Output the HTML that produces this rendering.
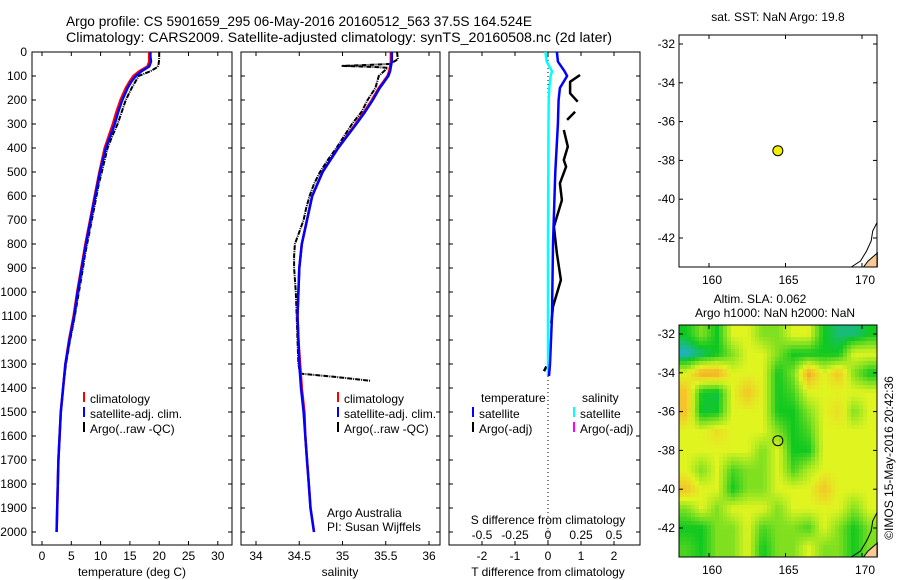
<!DOCTYPE html>
<html><head><meta charset="utf-8"><style>
body{margin:0;background:#fff}
svg{display:block;font-family:"Liberation Sans",sans-serif}
text{fill:#000}
</style></head><body>
<svg id="fig" width="900" height="580" viewBox="0 0 900 580">
<defs>
<clipPath id="clipMap2"><rect x="679" y="325" width="198" height="232"/></clipPath>
</defs>
<text x="66" y="26" font-size="14" textLength="466" lengthAdjust="spacingAndGlyphs">Argo profile: CS 5901659_295 06-May-2016 20160512_563 37.5S 164.524E</text>
<text x="66" y="42" font-size="14" textLength="546" lengthAdjust="spacingAndGlyphs">Climatology: CARS2009. Satellite-adjusted climatology: synTS_20160508.nc (2d later)</text>
<g id="g"></g>
</svg>
<script>
// ---------- data ----------
const depths = [0,20,40,60,80,100,125,150,200,250,300,400,500,600,700,800,900,1000,1100,1200,1300,1400,1500,1600,1700,1800,1900,2000];
const satT  = [18.5,18.5,18.6,18.3,17.0,16.0,15.2,14.6,13.7,13.0,12.4,10.9,9.9,9.1,8.3,7.5,6.8,6.1,5.5,4.7,4.0,3.6,3.2,3.0,2.8,2.7,2.6,2.5];
const climT = [18.3,18.3,18.3,18.0,16.6,15.6,14.9,14.3,13.4,12.7,12.1,10.7,9.8,9.0,8.2,7.4,6.7,6.0,5.4,4.6,4.0,3.6,3.2,3.0,2.8,2.7,2.6,2.5];
const satS  = [35.57,35.57,35.57,35.56,35.55,35.53,35.48,35.43,35.35,35.26,35.16,34.95,34.77,34.65,34.59,34.53,34.50,34.49,34.48,34.49,34.50,34.52,34.55,34.57,34.59,34.61,34.63,34.67];
const climS = [35.56,35.56,35.56,35.55,35.54,35.52,35.47,35.42,35.34,35.25,35.15,34.95,34.77,34.65,34.59,34.53,34.50,34.49,34.48,34.49,34.51,34.53,34.56,34.57,34.59,34.61,34.63,34.67];
const argoD = [0,30,50,58,62,66,80,100,150,200,250,300,350,400,450,500,550,600,650,700,750,800,850,900,1000,1100,1200,1300,1340,1355,1370];
const argoT = [20.0,20.0,19.9,19.8,19.7,19.5,18.5,16.5,15.3,14.3,13.6,12.9,12.0,11.2,10.7,10.2,9.7,9.3,8.9,8.5,8.1,7.7,7.3,7.0,6.3,5.6,4.8,4.1,3.9,3.8,3.7];
const argoS = [35.63,35.64,35.55,35.00,35.35,35.52,35.48,35.42,35.38,35.29,35.22,35.11,35.02,34.93,34.83,34.74,34.67,34.62,34.58,34.55,34.50,34.45,34.44,34.44,34.46,34.47,34.48,34.49,34.51,34.95,35.32];
const diffD  = [0,40,80,100,150,200,300,500,800,1100,1300,1350];
const satTdiff = [0.27,0.3,0.5,0.58,0.36,0.32,0.3,0.22,0.15,0.12,0.06,0.03];
const satSdiff = [-0.02,-0.01,0.03,0.02,0.01,0.005,0.004,0.002,0.0,0.0,0.0,0.0];
const argoDiffD = [96,124,172,207,null,249,283,null,325,394,450,478,547,617,728,839,950,1061,1130,null,1310,1330];
const argoTdiff = [0.97,0.67,0.67,0.9,null,0.82,0.58,null,0.48,0.6,0.48,0.55,0.36,0.42,0.18,0.27,0.39,0.15,0.1,null,-0.05,-0.12];
const depthTicks = [0,100,200,300,400,500,600,700,800,900,1000,1100,1200,1300,1400,1500,1600,1700,1800,1900,2000];
const tTicks = [0,5,10,15,20,25,30];
const sTicks = [34,34.5,35,35.5,36];
const dTTicks = [-2,-1,0,1,2];
const dSTicks = [-0.5,-0.25,0,0.25,0.5];
const latTicks = [-32,-34,-36,-38,-40,-42];
const lonTicks = [160,165,170];
const floatLon = 164.5, floatLat = -37.5;
const slaGrid = [
 [1,2,1,3,3,2,2,3,3,1,0.5,0.5,1],
 [0,0.5,1,2,3,3,2,1,1,1,1,3,3],
 [3,4.5,4.5,3,3,3,1,2,4.5,3,4,2,1],
 [4,1,0.8,3,4,3,1,1.5,3,3,3,3,3],
 [4,0.8,1,3,3,3,1,1,2,3,3.5,2,3],
 [3,3,3.5,3,3,3,2,1,1.5,3,3,3,3],
 [3,3,3,3,3,2,3,1,1,3,3,3,3],
 [3,2,3,1.5,2,2,3,1.5,2.5,3,3,3,3],
 [4,3,3,1,2,2,3,3,3,4,3,3,3],
 [2,3,2,3,3,3,2,3,3,3,3,2,3],
 [1,1,2,2,3,1.5,2,2,1.5,3,2,1,2],
 [1.5,1,2,2,3,1,2,2,3,2,2,1,2]
];
// ---------- helpers ----------
const NS="http://www.w3.org/2000/svg";
const G=document.getElementById('g');
function mk(tag,attrs,parent){const e=document.createElementNS(NS,tag);for(const k in attrs)e.setAttribute(k,attrs[k]);(parent||G).appendChild(e);return e;}
function txt(x,y,s,size,anchor,parent){const e=mk('text',{x:x,y:y,'font-size':size||12,'text-anchor':anchor||'start'},parent);e.textContent=s;return e;}
const yD=d=>52+d*0.24;
const xT=t=>42+t*5.86;
const xS=s=>256+(s-34)*86.5;
const xdT=v=>548+v*33;
const xdS=v=>548+v*132;
function pathFrom(ds,vs,fx){let p='',pen=false;for(let i=0;i<ds.length;i++){if(ds[i]===null||vs[i]===null){pen=false;continue;}p+=(pen?'L':'M')+fx(vs[i]).toFixed(1)+','+yD(ds[i]).toFixed(1);pen=true;}return p;}
function frame(x0,x1,name){
  const r=mk('rect',{x:x0,y:52,width:x1-x0,height:493,fill:'none',stroke:'#000','stroke-width':1});
  
  
  depthTicks.forEach(d=>{mk('line',{x1:x0,x2:x0+4,y1:yD(d),y2:yD(d),stroke:'#000'});mk('line',{x1:x1-4,x2:x1,y1:yD(d),y2:yD(d),stroke:'#000'});});
}
function xticks(vals,fx){vals.forEach(v=>{const x=fx(v);mk('line',{x1:x,x2:x,y1:52,y2:56,stroke:'#000'});mk('line',{x1:x,x2:x,y1:541,y2:545,stroke:'#000'});const t=txt(x,560,String(v),12,'middle');});}
function line(d,color,w,name,dash){const e=mk('path',{d:d,fill:'none',stroke:color,'stroke-width':w,'stroke-linejoin':'round'});if(dash)e.setAttribute('stroke-dasharray',dash);return e;}
function legendEntry(x,y,color,label){const g=mk('g',{});mk('line',{x1:x,x2:x,y1:y-11,y2:y-1,stroke:color,'stroke-width':2},g);txt(x+6,y,label,12,'start',g);}
// ---------- panel 1: temperature ----------
frame(32,232,'temperature-panel');
depthTicks.forEach(d=>{const t=txt(27,yD(d)+4,String(d),12,'end');});
xticks(tTicks,xT);
line(pathFrom(argoD,argoT,xT),'#000',2,'argo-temperature-line','5 1 1 1');
line(pathFrom(depths,climT,xT),'#f00',2.5,'climatology-temperature-line');
line(pathFrom(depths,satT,xT),'#00f',2.5,'satellite-temperature-line');
{const t=txt(132,576,'temperature (deg C)',12,'middle');}
legendEntry(84,403,'#f00','climatology');
legendEntry(84,418,'#00f','satellite-adj. clim.');
legendEntry(84,433,'#000','Argo(..raw -QC)');
// ---------- panel 2: salinity ----------
frame(241,440,'salinity-panel');
xticks(sTicks,xS);
line(pathFrom(argoD,argoS,xS),'#000',2,'argo-salinity-line','5 1 1 1');
line(pathFrom(depths,climS,xS),'#f00',2.5,'climatology-salinity-line');
line(pathFrom(depths,satS,xS),'#00f',2.5,'satellite-salinity-line');
{const t=txt(340,576,'salinity',12,'middle');}
legendEntry(338,403,'#f00','climatology');
legendEntry(338,418,'#00f','satellite-adj. clim.');
legendEntry(338,433,'#000','Argo(..raw -QC)');
{const t=txt(327,517,'Argo Australia',12);
 const t2=txt(327,531,'PI: Susan Wijffels',12);}
// ---------- panel 3: differences ----------
frame(449,640,'difference-panel');
xticks(dTTicks,xdT);
dSTicks.forEach(v=>{const t=txt(xdS(v),539,String(v),12,'middle');});
mk('line',{x1:548,x2:548,y1:52,y2:545,stroke:'#000','stroke-dasharray':'1 3'});
line(pathFrom(argoDiffD,argoTdiff,xdT),'#000',2.5,'argo-temperature-diff-line');
line(pathFrom(diffD,satSdiff,xdS),'#0ff',2.5,'satellite-salinity-diff-line');
line(pathFrom(diffD,satTdiff,xdT),'#00f',2.5,'satellite-temperature-diff-line');
{const t=txt(548,524,'S difference from climatology',12,'middle');
 const t2=txt(548,576,'T difference from climatology',12,'middle');}
txt(481,402,'temperature',12);
txt(582,402,'salinity',12);
legendEntry(473,418,'#00f','satellite');
legendEntry(473,433,'#000','Argo(-adj)');
legendEntry(574,418,'#0ff','satellite');
legendEntry(574,433,'#f0f','Argo(-adj)');
// ---------- maps ----------
function mapAxes(y0,name){
  const yL=lat=>y0+9+(-32-lat)*19.4;
  const xL=lon=>709+(lon-160)*15.3;
  latTicks.forEach(l=>{const y=yL(l);mk('line',{x1:679,x2:683,y1:y,y2:y,stroke:'#000'});mk('line',{x1:873,x2:877,y1:y,y2:y,stroke:'#000'});const t=txt(675,y+4,String(l),12,'end');});
  lonTicks.forEach(l=>{const x=xL(l);mk('line',{x1:x,x2:x,y1:y0,y2:y0+4,stroke:'#000'});mk('line',{x1:x,x2:x,y1:y0+228,y2:y0+232,stroke:'#000'});const t=txt(x+3,y0+249,String(l),12,'middle');});
  mk('polygon',{points:`${xL(170.1)},${y0+232} ${xL(170.4)},${y0+226} ${xL(171)},${y0+218} ${xL(171)},${y0+232}`,fill:'#fac896',stroke:'#000','stroke-width':1});
  mk('polyline',{points:`${xL(169.3)},${y0+232} ${xL(169.9)},${y0+226} ${xL(170.3)},${y0+216} ${xL(170.6)},${y0+206} ${xL(170.7)},${y0+196} ${xL(171)},${y0+187}`,fill:'none',stroke:'#000','stroke-width':1});
  const r=mk('rect',{x:679,y:y0,width:198,height:232,fill:'none',stroke:'#000'});
  
  
  return [xL,yL];
}
{const [xL,yL]=mapAxes(35,'sst-map-frame');
 const c=mk('circle',{cx:xL(floatLon),cy:yL(floatLat),r:5,fill:'#f0f000',stroke:'#000'});
 
 
 const t=txt(778,21,'sat. SST: NaN Argo: 19.8',12,'middle');}
{
 const stops=[[0,[32,176,208]],[1,[16,200,32]],[2,[128,224,32]],[3,[224,244,32]],[4,[244,196,40]],[5,[232,140,32]]];
 function col(v){v=Math.max(0,Math.min(5,v));for(let i=0;i<stops.length-1;i++){if(v<=stops[i+1][0]){const f=(v-stops[i][0])/(stops[i+1][0]-stops[i][0]);const a=stops[i][1],b=stops[i+1][1];return 'rgb('+a.map((c,k)=>Math.round(c+(b[k]-c)*f)).join(',')+')';}}return 'rgb(232,140,32)';}
 const clip=mk('g',{'clip-path':'url(#clipMap2)'});
 const rows=slaGrid.length, cols=slaGrid[0].length, cw=198/cols, ch=232/rows;
 // bilinear sampling of the grid (grid values at cell centres), drawn as small pixels
 function sample(px,py){
   const gx=Math.max(0,Math.min(cols-1,(px-679)/cw-0.5)), gy=Math.max(0,Math.min(rows-1,(py-325)/ch-0.5));
   const i0=Math.floor(gy), j0=Math.floor(gx), i1=Math.min(rows-1,i0+1), j1=Math.min(cols-1,j0+1);
   const fy=gy-i0, fx=gx-j0;
   const a=slaGrid[i0][j0]*(1-fx)+slaGrid[i0][j1]*fx, b=slaGrid[i1][j0]*(1-fx)+slaGrid[i1][j1]*fx;
   return a*(1-fy)+b*fy;
 }
 const P=4;
 for(let py=325;py<557;py+=P){for(let px=679;px<877;px+=P){
   const cell=mk('rect',{x:px,y:py,width:P+0.5,height:P+0.5,fill:col(sample(px+P/2,py+P/2))},clip);
   
   
 }}
 const [xL,yL]=mapAxes(325,'sla-map-frame');
 const c=mk('circle',{cx:xL(floatLon),cy:yL(floatLat),r:5,fill:'none',stroke:'#000'});
 
 
 const t=txt(760,303,'Altim. SLA: 0.062',12,'middle');
 const t2=txt(775,317,'Argo h1000: NaN h2000: NaN',12,'middle');
 const ts=txt(0,0,'©IMOS 15-May-2016 20:42:36',12,'middle');ts.setAttribute('transform','translate(893,458) rotate(-90)');
}
</script>
</body></html>
